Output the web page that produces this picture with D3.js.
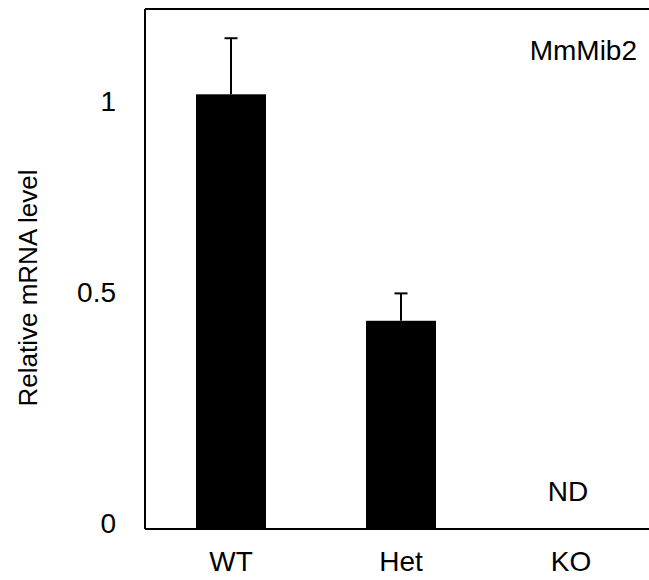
<!DOCTYPE html>
<html><head><meta charset="utf-8">
<script src="https://cdn.jsdelivr.net/npm/d3@7/dist/d3.min.js"></script>
<style>body{margin:0;background:#fff}text{font-family:"Liberation Sans",Arial,sans-serif;fill:#000}</style>
</head><body>
<svg id="c" width="649" height="580"></svg>
<script>
const categories = ["WT", "Het", "KO"];
const values = [1.0, 0.479, 0];
const errors = [0.129, 0.063, 0];
const yTickLabels = ["0", "0.5", "1"];
const yTickAt = [0.013, 0.545, 0.984];
const annotation = "MmMib2";
const koText = "ND";

(function () {
const svg = d3.select("#c");
const pLeft = 146, pBottom = 529, pTop = 9, pRight = 649;
const y = d3.scaleLinear().domain([0, 1]).range([pBottom, 94.3]);
const x = d3.scalePoint().domain(categories).range([pLeft, 656]).padding(0.5);
const barW = 70, capW = 13;
const fs = 28;

// bars
svg.selectAll("rect.bar").data(values).enter().append("rect")
  .attr("x", (d, i) => x(categories[i]) - barW / 2)
  .attr("width", barW)
  .attr("y", d => y(d))
  .attr("height", d => pBottom - y(d))
  .attr("fill", "#000");

// error bars
const eg = svg.append("g").attr("stroke", "#000").attr("stroke-width", 2);
values.forEach((v, i) => {
  const cx = x(categories[i]);
  eg.append("line").attr("x1", cx).attr("x2", cx).attr("y1", y(v)).attr("y2", y(v + errors[i]));
  eg.append("line").attr("x1", cx - capW / 2).attr("x2", cx + capW / 2)
    .attr("y1", y(v + errors[i])).attr("y2", y(v + errors[i]));
});

// frame lines
const fg = svg.append("g").attr("stroke", "#000").attr("stroke-width", 2).attr("fill", "none");
fg.append("line").attr("x1", pLeft - 1).attr("x2", pRight).attr("y1", pTop).attr("y2", pTop);
fg.append("line").attr("x1", pLeft - 1).attr("x2", pLeft - 1).attr("y1", pTop).attr("y2", pBottom);
fg.append("line").attr("x1", pLeft - 1).attr("x2", pRight).attr("y1", pBottom).attr("y2", pBottom);

// y tick labels
svg.selectAll("text.yt").data(yTickLabels).enter().append("text")
  .attr("x", 116).attr("y", (d, i) => y(yTickAt[i]))
  .attr("dy", "0.35em").attr("text-anchor", "end")
  .attr("font-size", fs).text(d => d);

// x labels
svg.selectAll("text.xt").data(categories).enter().append("text")
  .attr("x", d => x(d)).attr("y", 571)
  .attr("text-anchor", "middle").attr("font-size", fs).text(d => d);

// y title
svg.append("text").attr("transform", "translate(37,288) rotate(-90)")
  .attr("text-anchor", "middle").attr("font-size", 26).text("Relative mRNA level");

// annotation
svg.append("text").attr("x", 637).attr("y", 60).attr("text-anchor", "end")
  .attr("font-size", fs).text(annotation);

// ND
svg.append("text").attr("x", x("KO") - 3).attr("y", 501).attr("text-anchor", "middle")
  .attr("font-size", fs).text(koText);
})();
</script>
</body></html>
